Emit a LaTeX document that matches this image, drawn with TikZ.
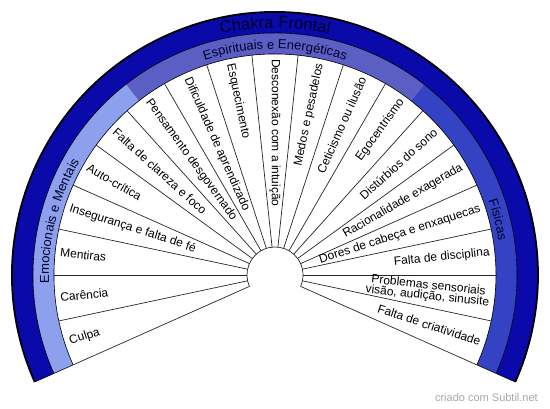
\documentclass[tikz,border=0pt]{standalone}
\usepackage{fontspec}
\setmainfont{Liberation Sans}
\usetikzlibrary{decorations.text}
\definecolor{ringdark}{HTML}{0A0AAA}
\definecolor{bandemo}{HTML}{8DA0EE}
\definecolor{bandesp}{HTML}{5B5EC2}
\definecolor{bandfis}{HTML}{3343C4}
\definecolor{labeltext}{HTML}{00002A}
\definecolor{credit}{HTML}{A8A8A8}
\newcommand\bandfont{\fontsize{13}{13}\selectfont\color{labeltext}}
\newcommand\titlefont{\fontsize{16.5}{16.5}\selectfont\color{labeltext}}
\begin{document}
\begin{tikzpicture}[x=1pt,y=1pt,
  wlabel/.style={font=\fontsize{12}{12}\selectfont, inner sep=0pt, text=black},
  wline/.style={draw=black!85, line width=0.7pt},
  ringline/.style={draw=black, line width=0.6pt}]
\useasboundingbox (0,0) rectangle (550,408);
\fill[white] (0,0) rectangle (550,408);
\begin{scope}[shift={(275,133)}]
  % white wedge area
  \fill[white] (204:28) arc[start angle=204,end angle=-24,radius=28]
    -- (-24:221) arc[start angle=-24,end angle=204,radius=221] -- cycle;
  % group bands
  \fill[bandemo] (204:221) arc[start angle=204,end angle=128,radius=221]
    -- (128:242) arc[start angle=128,end angle=204,radius=242] -- cycle;
  \fill[bandesp] (128:221) arc[start angle=128,end angle=52,radius=221]
    -- (52:242) arc[start angle=52,end angle=128,radius=242] -- cycle;
  \fill[bandfis] (52:221) arc[start angle=52,end angle=-24,radius=221]
    -- (-24:242) arc[start angle=-24,end angle=52,radius=242] -- cycle;
  % dark outer band
  \fill[ringdark] (204:242) arc[start angle=204,end angle=-24,radius=242]
    -- (-24:263) arc[start angle=-24,end angle=204,radius=263] -- cycle;
  % outlines
  \draw[ringline] (204:221) arc[start angle=204,end angle=-24,radius=221];
  \draw[ringline] (204:242) arc[start angle=204,end angle=-24,radius=242];
  \draw[black, line width=1.8pt] (204:263) arc[start angle=204,end angle=-24,radius=263];
  \draw[ringline] (204:221) -- (204:263);
  \draw[ringline] (-24:221) -- (-24:263);
  % wedge lines and hub
  \foreach \k in {0,...,19} {
    \draw[wline] ({204-12*\k}:28) -- ({204-12*\k}:221);
  }
  \draw[wline] (204:28) arc[start angle=204,end angle=-24,radius=28];
  % curved labels
  \path[decorate, decoration={text along path, text align=center,
      text={|\titlefont|Chakra Frontal}}]
    (120:247) arc[start angle=120,end angle=60,radius=247];
  \path[decorate, decoration={text along path, text align=center,
      text={|\bandfont|Espirituais e Energéticas}}]
    (128:226) arc[start angle=128,end angle=52,radius=226];
  \path[decorate, decoration={text along path, text align=center,
      text={|\bandfont|Emocionais e Mentais}}]
    (204:226) arc[start angle=204,end angle=128,radius=226];
  \path[decorate, decoration={text along path, text align=center,
      text={|\bandfont|Físicas}}]
    (52:226) arc[start angle=52,end angle=-24,radius=226];
  % wedge labels, left half (reading outward to inward)
  \foreach \a/\t [count=\n] in {198/Culpa, 186/Carência, 174/Mentiras,
      162/Insegurança e falta de fé, 150/Auto-crítica,
      138/Falta de clareza e foco, 126/Pensamento desgovernado,
      114/Dificuldade de aprendizado, 102/Esquecimento,
      90/Desconexão com a intuição} {
    \node[wlabel, rotate={\a-180}, anchor=west] (L\n) at (\a:216) {\t};
  }
  % wedge labels, right half (reading inward to outward)
  \foreach \a/\t [count=\n] in {78/Medos e pesadelos, 66/Ceticismo ou ilusão,
      54/Egocentrismo, 42/Distúrbios do sono, 30/Racionalidade exagerada,
      18/Dores de cabeça e enxaquecas, 6/Falta de disciplina,
      -18/Falta de criatividade} {
    \node[wlabel, rotate=\a, anchor=east] (R\n) at (\a:216) {\t};
  }
  \node[wlabel, font=\fontsize{12}{10.5}\selectfont, align=center, rotate=-6, anchor=east]
    (P) at (-6:216) {Problemas sensoriais\\visão, audição, sinusite};
\end{scope}
\node[anchor=base east, inner sep=0pt, text=credit, font=\fontsize{11}{11}\selectfont]
  (credit) at (538,7) {criado com Subtil.net};
\end{tikzpicture}
\end{document}
